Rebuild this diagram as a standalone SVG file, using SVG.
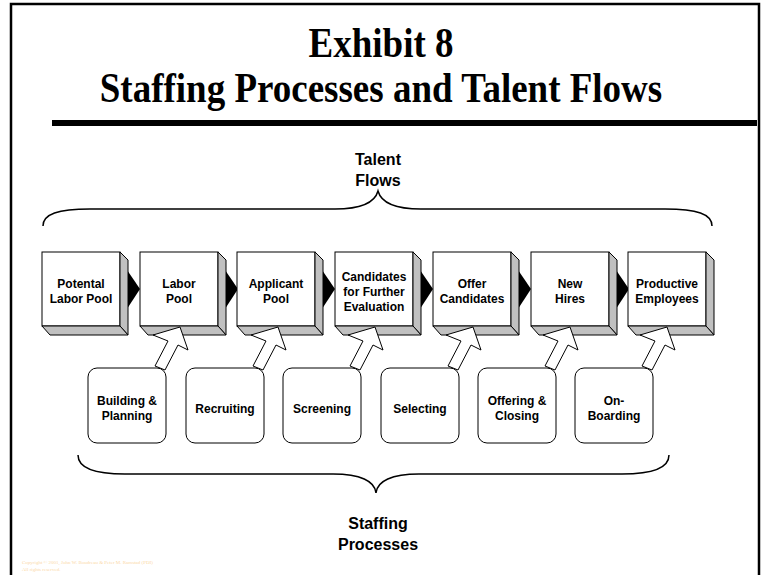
<svg xmlns="http://www.w3.org/2000/svg" width="763" height="575" viewBox="0 0 763 575">
<style>
.title{font-family:"Liberation Serif","Times New Roman",serif;font-weight:bold;font-size:37px;fill:#000;text-anchor:middle}
.lbl{font-family:"Liberation Sans",Arial,sans-serif;font-weight:bold;font-size:12px;fill:#000;text-anchor:middle}
.big{font-family:"Liberation Sans",Arial,sans-serif;font-weight:bold;font-size:16px;fill:#000;text-anchor:middle}
.front{fill:#fff;stroke:#000;stroke-width:1}
.side{fill:#c0c0c0;stroke:#000;stroke-width:1;stroke-linejoin:round}
.tri{fill:#000}
.proc{fill:#fff;stroke:#000;stroke-width:1}
.harrow{fill:#fff;stroke:#000;stroke-width:1;stroke-linejoin:miter}
.brace{fill:none;stroke:#000;stroke-width:1.5}
.copy{font-family:"Liberation Serif","Times New Roman",serif;font-size:5px;fill:#fbd9a8}
</style>
<defs>
<g id="box3d">
<rect class="front" x="0" y="0" width="78" height="74"/>
<polygon class="side" points="78,0 86,8 86,83 78,74"/>
<polygon class="side" points="0,74 78,74 86,83 8,83"/>
</g>
<polygon id="tri" class="tri" points="83,15 98,37 83,60"/>
<polygon id="harr" class="harrow" points="92,327 100,350 90,345 77,370 67,366 80,341 65,335"/>
</defs>
<rect width="763" height="575" fill="#fff"/>
<path d="M11,575 V4 H759 V575" fill="none" stroke="#000" stroke-width="2.5"/>
<g id="title">
<text class="title" transform="translate(381,57) scale(1,1.15)">Exhibit 8</text>
<text class="title" transform="translate(381,102) scale(1,1.15)">Staffing Processes and Talent Flows</text>
<rect x="52" y="120" width="705" height="6" fill="#000"/>
</g>
<g id="talent-flows-label">
<text class="big" x="378" y="165">Talent</text>
<text class="big" x="378" y="186">Flows</text>
</g>
<g id="connectors">
<path class="brace" d="M43,226 C43,214 58,209 90,209 L335,209 C362,209 375,202 378,191 C381,202 394,209 421,209 L665,209 C697,209 712,214 712,226"/>
<path class="brace" d="M78,455 C78,467 93,474 125,474 L333,474 C360,474 375,481 376,493 C377,481 392,474 419,474 L622,474 C654,474 669,467 669,455"/>
<use href="#tri" transform="translate(42,252)"/>
<use href="#tri" transform="translate(140,252)"/>
<use href="#tri" transform="translate(237,252)"/>
<use href="#tri" transform="translate(335,252)"/>
<use href="#tri" transform="translate(433,252)"/>
<use href="#tri" transform="translate(531,252)"/>
</g>
<g id="flow-potential"><use href="#box3d" transform="translate(42,252)"/><text class="lbl" x="81" y="288">Potental</text><text class="lbl" x="81" y="303">Labor Pool</text></g>
<g id="flow-labor"><use href="#box3d" transform="translate(140,252)"/><text class="lbl" x="179" y="288">Labor</text><text class="lbl" x="179" y="303">Pool</text></g>
<g id="flow-applicant"><use href="#box3d" transform="translate(237,252)"/><text class="lbl" x="276" y="288">Applicant</text><text class="lbl" x="276" y="303">Pool</text></g>
<g id="flow-candidates"><use href="#box3d" transform="translate(335,252)"/><text class="lbl" x="374" y="281">Candidates</text><text class="lbl" x="374" y="296">for Further</text><text class="lbl" x="374" y="311">Evaluation</text></g>
<g id="flow-offer"><use href="#box3d" transform="translate(433,252)"/><text class="lbl" x="472" y="288">Offer</text><text class="lbl" x="472" y="303">Candidates</text></g>
<g id="flow-newhires"><use href="#box3d" transform="translate(531,252)"/><text class="lbl" x="570" y="288">New</text><text class="lbl" x="570" y="303">Hires</text></g>
<g id="flow-productive"><use href="#box3d" transform="translate(628,252)"/><text class="lbl" x="667" y="288">Productive</text><text class="lbl" x="667" y="303">Employees</text></g>
<g id="arrows">
<use href="#harr" transform="translate(88,0)"/>
<use href="#harr" transform="translate(186,0)"/>
<use href="#harr" transform="translate(283,0)"/>
<use href="#harr" transform="translate(381,0)"/>
<use href="#harr" transform="translate(478,0)"/>
<use href="#harr" transform="translate(575,0)"/>
</g>
<g id="proc-building"><rect class="proc" x="88" y="368" width="78" height="75" rx="9"/><text class="lbl" x="127" y="405">Building &amp;</text><text class="lbl" x="127" y="420">Planning</text></g>
<g id="proc-recruiting"><rect class="proc" x="186" y="368" width="78" height="75" rx="9"/><text class="lbl" x="225" y="413">Recruiting</text></g>
<g id="proc-screening"><rect class="proc" x="283" y="368" width="78" height="75" rx="9"/><text class="lbl" x="322" y="413">Screening</text></g>
<g id="proc-selecting"><rect class="proc" x="381" y="368" width="78" height="75" rx="9"/><text class="lbl" x="420" y="413">Selecting</text></g>
<g id="proc-offering"><rect class="proc" x="478" y="368" width="78" height="75" rx="9"/><text class="lbl" x="517" y="405">Offering &amp;</text><text class="lbl" x="517" y="420">Closing</text></g>
<g id="proc-onboarding"><rect class="proc" x="575" y="368" width="78" height="75" rx="9"/><text class="lbl" x="614" y="405">On-</text><text class="lbl" x="614" y="420">Boarding</text></g>
<g id="staffing-processes-label">
<text class="big" x="378" y="529">Staffing</text>
<text class="big" x="378" y="550">Processes</text>
</g>
<g id="copyright">
<text class="copy" x="22" y="564">Copyright © 2001, John W. Boudreau &amp; Peter M. Ramstad (PDI)</text>
<text class="copy" x="22" y="571">All rights reserved.</text>
</g>
</svg>
